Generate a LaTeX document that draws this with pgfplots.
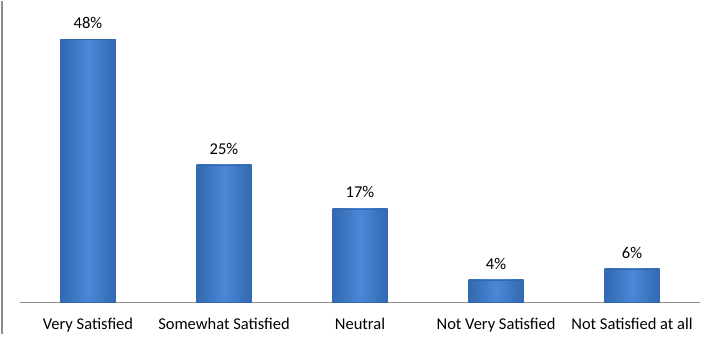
\documentclass[border=0pt]{standalone}
\usepackage{pgfplots}
\pgfplotsset{compat=1.18}
\usepackage{fontspec}
\setmainfont{Carlito}
\definecolor{barmid}{HTML}{4A88D8}
\definecolor{baredge}{HTML}{3268AE}
\definecolor{axgray}{HTML}{8C8C8C}
\pgfplotsset{mybar/.style={draw=baredge, line width=0.3pt, left color=baredge, right color=baredge, middle color=barmid}}
\begin{document}
\fontsize{16.5pt}{19pt}\selectfont
\begin{tikzpicture}
\begin{axis}[
  scale only axis,
  width=680pt, height=301pt,
  xmin=-0.5, xmax=4.5,
  ymin=0, ymax=55,
  axis y line=none,
  axis x line*=bottom,
  x axis line style={draw=axgray, -},
  xtick={0,1,2,3,4},
  xticklabels={Very Satisfied,Somewhat Satisfied,Neutral,Not Very Satisfied,Not Satisfied at all},
  xtick style={draw=none},
  x tick label style={font=\fontsize{16.5pt}{19pt}\selectfont, yshift=-6pt},
  ybar, bar width=55pt, bar shift=0pt,
  nodes near coords={\pgfmathprintnumber{\pgfplotspointmeta}\%},
  every node near coord/.append style={font=\fontsize{16.5pt}{19pt}\selectfont, yshift=5pt, text=black},
  /pgf/number format/assume math mode=true,
  point meta=y,
  clip=false,
]
\addplot[mybar] coordinates {(0,48)};
\addplot[mybar] coordinates {(1,25)};
\addplot[mybar] coordinates {(2,17)};
\addplot[mybar] coordinates {(3,4)};
\addplot[mybar] coordinates {(4,6)};
\end{axis}
\draw[axgray, line width=1.5pt] ([xshift=-18pt]current axis.south west |- 0,-32pt) -- ++(0,333pt);
\useasboundingbox ([xshift=-20pt,yshift=-32pt]current axis.south west) rectangle ([xshift=9pt]current axis.north east);
\end{tikzpicture}
\end{document}
